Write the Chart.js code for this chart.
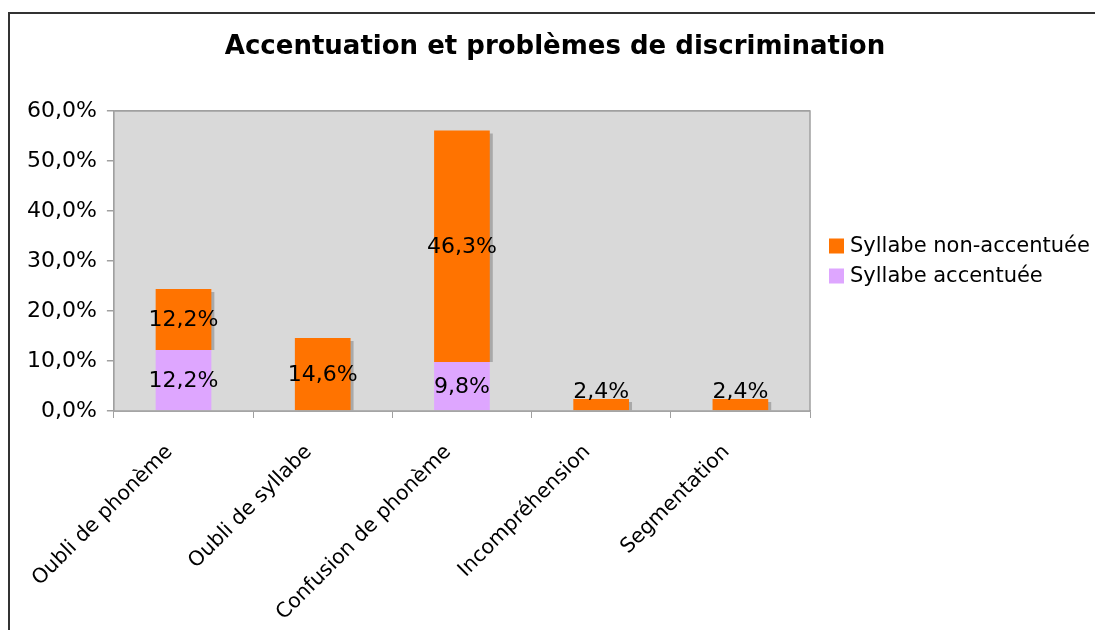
<!DOCTYPE html>
<html>
<head>
<meta charset="utf-8">
<script src="https://cdn.jsdelivr.net/npm/chart.js@4/dist/chart.umd.min.js"></script>
<style>
  body { margin: 0; background: #fff; }
  #wrap { position: relative; width: 1095px; height: 630px; }
  #frame { position: absolute; left: 8px; top: 12px; width: 1200px; height: 700px;
           border-left: 2px solid #333; border-top: 2px solid #333; pointer-events: none; }
  canvas { position: absolute; left: 0; top: 0; }
</style>
</head>
<body>
<div id="wrap">
  <canvas id="chart" width="1095" height="630"></canvas>
  <div id="frame"></div>
</div>
<script>
// data
const categories = ["Oubli de phonème", "Oubli de syllabe", "Confusion de phonème", "Incompréhension", "Segmentation"];
const accentuee = [12.2, 0, 9.8, 0, 0];
const nonAccentuee = [12.2, 14.6, 46.3, 2.4, 2.4];
const yTicks = [0, 10, 20, 30, 40, 50, 60];
const chartTitle = "Accentuation et problèmes de discrimination";

const FONT = "'DejaVu Sans', Verdana, sans-serif";
const fmt = v => v.toFixed(1).replace(".", ",") + "%";

// grey plot background + frame
const plotBg = {
    id: "plotBg",
    beforeDatasetsDraw(chart) {
        const { ctx, chartArea: a } = chart;
        ctx.save();
        ctx.fillStyle = "#d9d9d9";
        ctx.fillRect(a.left, a.top, a.right - a.left, a.bottom - a.top);
        ctx.restore();
    },
    afterDatasetsDraw(chart) {
        const { ctx, chartArea: a } = chart;
        ctx.save();
        ctx.strokeStyle = "#a0a0a0";
        ctx.lineWidth = 1.5;
        ctx.strokeRect(a.left, a.top, a.right - a.left, a.bottom - a.top);
        ctx.restore();
    }
};

// drop shadow to the right of each stacked bar
const barShadow = {
    id: "barShadow",
    beforeDatasetsDraw(chart) {
        const { ctx } = chart;
        const metas = chart.data.datasets.map((d, i) => chart.getDatasetMeta(i));
        ctx.save();
        ctx.fillStyle = "#a9a9a9";
        categories.forEach((c, i) => {
            let top = Infinity, base = null, x = null, w = null;
            metas.forEach((m, di) => {
                const el = m.data[i];
                if (!el || !chart.data.datasets[di].data[i]) return;
                top = Math.min(top, el.y);
                base = el.base; x = el.x; w = el.width;
            });
            if (base === null) return;
            ctx.fillRect(x - w / 2 + 3, top + 3, w, base - top - 3);
        });
        ctx.restore();
    }
};

// value labels inside segments (above when too thin)
const valueLabels = {
    id: "valueLabels",
    afterDatasetsDraw(chart) {
        const { ctx } = chart;
        ctx.save();
        ctx.font = "22px " + FONT;
        ctx.fillStyle = "#000";
        ctx.textAlign = "center";
        ctx.textBaseline = "middle";
        chart.data.datasets.forEach((ds, di) => {
            const meta = chart.getDatasetMeta(di);
            ds.data.forEach((v, i) => {
                if (!v) return;
                const el = meta.data[i];
                const h = el.base - el.y;
                let y = (el.y + el.base) / 2 + 1;
                if (h < 22) y = el.y - 7;
                ctx.fillText(fmt(v), el.x, y);
            });
        });
        ctx.restore();
    }
};

// title over the whole picture + legend on the right (non-accentuée first)
const titleAndLegend = {
    id: "titleAndLegend",
    afterDraw(chart) {
        const { ctx, chartArea: a } = chart;
        ctx.save();
        ctx.fillStyle = "#000";
        ctx.font = "bold 26px " + FONT;
        ctx.textAlign = "center";
        ctx.textBaseline = "middle";
        ctx.fillText(chartTitle, 555, 47);

        const items = chart.data.datasets.slice().reverse();
        const mid = (a.top + a.bottom) / 2;
        const step = 30;
        ctx.font = "21px " + FONT;
        ctx.textAlign = "left";
        items.forEach((ds, k) => {
            const cy = mid + (k - (items.length - 1) / 2) * step;
            ctx.fillStyle = ds.backgroundColor;
            ctx.fillRect(a.right + 19, cy - 7.5, 15, 15);
            ctx.fillStyle = "#000";
            ctx.fillText(ds.label, a.right + 40, cy + 1);
        });
        ctx.restore();
    }
};

new Chart(document.getElementById("chart"), {
    type: "bar",
    data: {
        labels: categories,
        datasets: [
            { label: "Syllabe accentuée", data: accentuee, backgroundColor: "#dea6ff" },
            { label: "Syllabe non-accentuée", data: nonAccentuee, backgroundColor: "#ff7300" }
        ]
    },
    options: {
        responsive: false,
        animation: false,
        categoryPercentage: 1,
        barPercentage: 0.4,
        layout: { padding: { left: 17, right: 285, top: 111, bottom: 0 } },
        plugins: {
            legend: { display: false },
            tooltip: { enabled: false }
        },
        scales: {
            x: {
                stacked: true,
                afterFit: s => { s.height = 219; },
                grid: { display: true, drawOnChartArea: false, offset: true, color: "#a0a0a0", tickLength: 7 },
                border: { color: "#a0a0a0", width: 1.5 },
                ticks: {
                    color: "#000",
                    minRotation: 45,
                    maxRotation: 45,
                    padding: 22,
                    labelOffset: -14,
                    font: { family: FONT, size: 20.5 }
                }
            },
            y: {
                stacked: true,
                min: 0,
                max: 60,
                afterBuildTicks: axis => { axis.ticks = yTicks.map(v => ({ value: v })); },
                grid: { color: "#a0a0a0", lineWidth: 1.5, tickLength: 7 },
                border: { color: "#a0a0a0", width: 1.5 },
                ticks: {
                    color: "#000",
                    padding: 10,
                    font: { family: FONT, size: 22 },
                    callback: v => fmt(v)
                }
            }
        }
    },
    plugins: [plotBg, barShadow, valueLabels, titleAndLegend]
});
</script>
</body>
</html>
